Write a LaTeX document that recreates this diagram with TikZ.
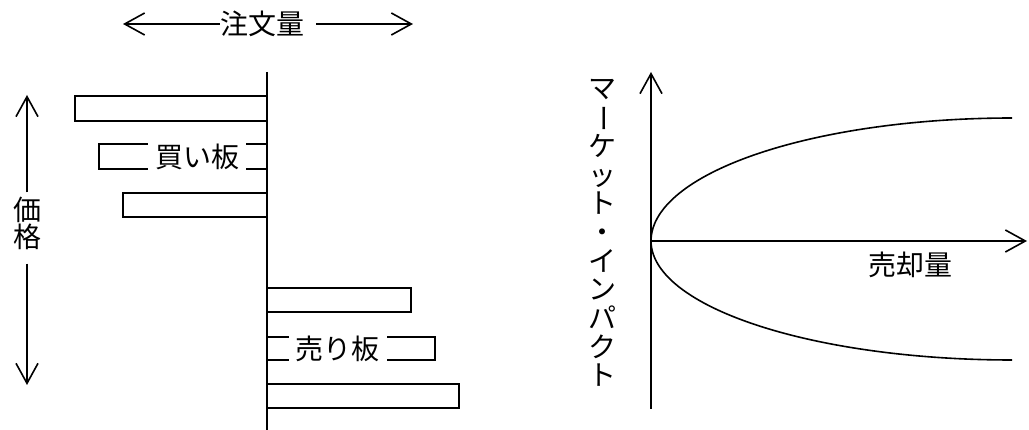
\documentclass[tikz,border=0pt]{standalone}
\usepackage{fontspec}
\setmainfont{Noto Sans CJK JP}
\usetikzlibrary{arrows.meta}
\begin{document}
\begin{tikzpicture}[x=1pt,y=-1pt,
  ax/.style={line width=1.8pt},
  arr/.style={line width=1.6pt,-{Straight Barb[length=20pt,width=22pt]}},
  bar/.style={draw,line width=1.6pt},
  crv/.style={line width=1.6pt},
  lbl/.style={font=\fontsize{28}{27}\selectfont,inner sep=0pt},
  vch/.style={lbl,text height=21pt,text depth=3pt},
  cover/.style={lbl,fill=white,inner xsep=7pt,inner ysep=5pt}]
\useasboundingbox[fill=white] (0,0) rectangle (1029,430);
% order quantity
\node[lbl] (q) at (262,24) {注文量};
\coordinate (qL) at (123,24);
\coordinate (qR) at (413,24);
\draw[arr] (q.west) -- (qL);
\draw[arr] ([xshift=12pt]q.east) -- (qR);
% price
\node[lbl,align=center] (p) at (27,223) {価\\格};
\coordinate (pU) at (27,95);
\coordinate (pD) at (27,385);
\draw[arr] ([yshift=4pt]p.north) -- (pU);
\draw[arr] ([yshift=-14pt]p.south) -- (pD);
% bars
\draw[bar] (75,96) rectangle (267,121);
\draw[bar] (99,144) rectangle (267,169);
\draw[bar] (123,193) rectangle (267,217);
\draw[bar] (267,288) rectangle (411,312);
\draw[bar] (267,337) rectangle (435,360);
\draw[bar] (267,384) rectangle (459,408);
\coordinate (c1) at (267,72);
\coordinate (c2) at (267,430);
\draw[ax] (c1) -- (c2);
\node[cover] (buy) at (197,156.5) {買い板};
\node[cover] (sell) at (337.5,348.5) {売り板};
% market impact graph
\coordinate (O) at (651,241);
\coordinate (yT) at (651,72);
\coordinate (yB) at (651,409);
\coordinate (xE) at (1027,241);
\draw[arr] (yB) -- (yT);
\draw[arr] (O) -- (xE);
\draw[crv] plot[smooth,domain=0:90,samples=60] ({1012-361*cos(\x)},{241-123*sin(\x)});
\draw[crv] plot[smooth,domain=0:90,samples=60] ({1012-361*cos(\x)},{241+119*sin(\x)});
\node[lbl] (sv) at (910,265) {売却量};
\foreach \c/\r [count=\i from 0] in {マ/0,ー/-90,ケ/0,ッ/0,ト/0,・/0,イ/0,ン/0,パ/0,ク/0,ト/0}
  \node[vch,rotate=\r] (mi\i) at (602,{90+28.7*\i}) {\c};
\end{tikzpicture}
\end{document}
